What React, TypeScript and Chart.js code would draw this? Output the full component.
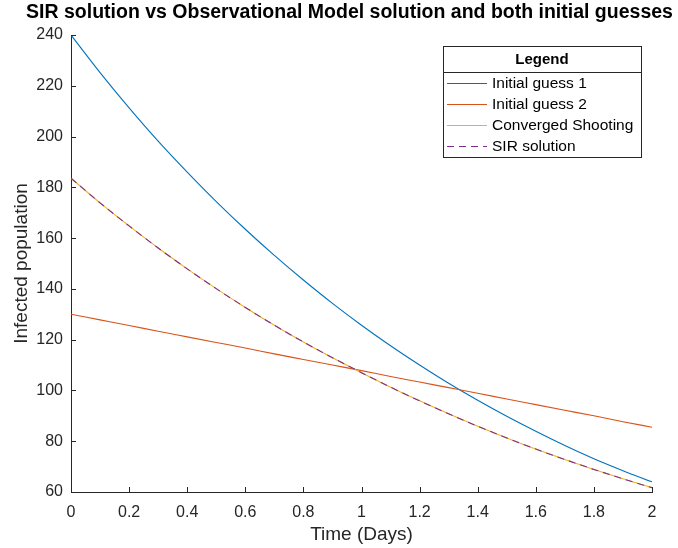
import React, { useEffect, useRef } from "react";
import { Chart, registerables } from "chart.js";

Chart.register(...registerables);

const timeDays = [0, 0.1, 0.2, 0.3, 0.4, 0.5, 0.6, 0.7, 0.8, 0.9, 1.0, 1.1, 1.2, 1.3, 1.4, 1.5, 1.6, 1.7, 1.8, 1.9, 2.0];
const initialGuess1 = [240, 225.2, 211.3, 198.2, 186, 174.4, 163.5, 153.2, 143.5, 134.3, 125.7, 117.6, 110, 102.8, 96.1, 89.8, 83.9, 78.3, 73.1, 68.4, 64];
const initialGuess2 = [130, 127.8, 125.6, 123.3, 121.1, 118.9, 116.7, 114.4, 112.2, 110, 107.8, 105.5, 103.3, 101.1, 98.9, 96.6, 94.4, 92.2, 90, 87.7, 85.5];
const convergedShooting = [183.6, 173.9, 164.8, 156.1, 147.9, 140.1, 132.7, 125.7, 119.1, 112.9, 107, 101.3, 95.9, 90.8, 85.9, 81.3, 76.9, 72.8, 68.9, 65.2, 61.7];
const sirSolution = [183.6, 173.9, 164.8, 156.1, 147.9, 140.1, 132.7, 125.7, 119.1, 112.9, 107, 101.3, 95.9, 90.8, 85.9, 81.3, 76.9, 72.8, 68.9, 65.2, 61.7];

const seriesLabels = ["Initial guess 1", "Initial guess 2", "Converged Shooting", "SIR solution"];
const seriesColors = ["#0072BD", "#D95319", "#EDB120", "#7E2F8E"];

const FONT = "'Liberation Sans', Arial, Helvetica, sans-serif";
const AXIS_COLOR = "#262626";

const toXY = (ys: number[]) => ys.map((y, i) => ({ x: timeDays[i], y }));

const shiftTitle = {
  id: "shiftTitle",
  afterLayout(chart: any) {
    const t = chart.titleBlock;
    if (t) {
      t.left = 21;
      t.right = chart.width;
      t.width = t.right - t.left;
    }
  },
};

const inwardTicks = {
  id: "inwardTicks",
  afterDatasetsDraw(chart: any) {
    const { ctx, chartArea, scales } = chart;
    ctx.save();
    ctx.strokeStyle = AXIS_COLOR;
    ctx.lineWidth = 1;
    const xs = scales.x;
    xs.ticks.forEach((_t: any, i: number) => {
      const px = Math.round(xs.getPixelForTick(i)) + 0.5;
      ctx.beginPath();
      ctx.moveTo(px, chartArea.bottom);
      ctx.lineTo(px, chartArea.bottom - 5);
      ctx.stroke();
    });
    const ys = scales.y;
    ys.ticks.forEach((_t: any, i: number) => {
      const py = Math.round(ys.getPixelForTick(i)) + 0.5;
      ctx.beginPath();
      ctx.moveTo(chartArea.left, py);
      ctx.lineTo(chartArea.left + 5, py);
      ctx.stroke();
    });
    ctx.restore();
  },
};

const boxLegend = {
  id: "boxLegend",
  afterDraw(chart: any) {
    const { ctx, chartArea } = chart;
    const ds = chart.data.datasets;
    const w = 198;
    const headerH = 26;
    const rowH = 21;
    const right = chartArea.right - 11;
    const left = right - w;
    const top = chartArea.top + 11;
    const h = headerH + rowH * ds.length + 1;
    ctx.save();
    ctx.fillStyle = "#ffffff";
    ctx.fillRect(left, top, w, h);
    ctx.strokeStyle = AXIS_COLOR;
    ctx.lineWidth = 1;
    ctx.strokeRect(Math.round(left) + 0.5, Math.round(top) + 0.5, w, h);
    ctx.beginPath();
    ctx.moveTo(Math.round(left), Math.round(top + headerH) + 0.5);
    ctx.lineTo(Math.round(left + w), Math.round(top + headerH) + 0.5);
    ctx.stroke();
    ctx.fillStyle = "#000000";
    ctx.font = `bold 15px ${FONT}`;
    ctx.textAlign = "center";
    ctx.textBaseline = "middle";
    ctx.fillText("Legend", left + w / 2, top + headerH / 2 + 1);
    ctx.font = `15.5px ${FONT}`;
    ctx.textAlign = "left";
    ds.forEach((d: any, i: number) => {
      const cy = top + headerH + rowH * i + rowH / 2 + 1;
      ctx.beginPath();
      ctx.strokeStyle = d.borderColor;
      ctx.lineWidth = 1;
      ctx.setLineDash(d.borderDash || []);
      ctx.moveTo(left + 4, cy);
      ctx.lineTo(left + 44, cy);
      ctx.stroke();
      ctx.setLineDash([]);
      ctx.fillStyle = "#000000";
      ctx.fillText(d.label, left + 49, cy);
    });
    ctx.restore();
  },
};

export default function App() {
  const ref = useRef<HTMLCanvasElement>(null);
  useEffect(() => {
    if (!ref.current) return;
    const series = [initialGuess1, initialGuess2, convergedShooting, sirSolution];
    const chart = new Chart(ref.current, {
      type: "line",
      data: {
        datasets: series.map((s, i) => ({
          label: seriesLabels[i],
          data: toXY(s),
          borderColor: seriesColors[i],
          backgroundColor: seriesColors[i],
          borderWidth: 1.1,
          borderDash: i === 3 ? [7, 5] : [],
          pointRadius: 0,
          cubicInterpolationMode: "monotone",
          fill: false,
          order: 3 - i,
        })),
      },
      options: {
        animation: false,
        responsive: true,
        maintainAspectRatio: false,
        layout: { padding: { left: 0, right: 26, top: 0, bottom: 0 } },
        plugins: {
          legend: { display: false },
          tooltip: { enabled: false },
          title: {
            display: true,
            text: "SIR solution vs Observational Model solution and both initial guesses",
            color: "#000000",
            font: { family: FONT, size: 19.5, weight: "bold" },
            padding: { top: 1, bottom: 10.6 },
          },
        },
        scales: {
          x: {
            type: "linear",
            min: 0,
            max: 2,
            grid: { display: false, drawTicks: false },
            border: { display: true, color: AXIS_COLOR, width: 1 },
            ticks: {
              stepSize: 0.2,
              padding: 11,
              color: AXIS_COLOR,
              font: { family: FONT, size: 16 },
              maxRotation: 0,
              autoSkip: false,
              callback: (v: any) => String(Number(Number(v).toFixed(1))),
            },
            title: {
              display: true,
              text: "Time (Days)",
              color: AXIS_COLOR,
              font: { family: FONT, size: 19 },
              padding: { top: 0, bottom: 2 },
            },
            afterFit: (s: any) => {
              s.height = 56;
            },
          },
          y: {
            type: "linear",
            min: 60,
            max: 240,
            grid: { display: false, drawTicks: false },
            border: { display: true, color: AXIS_COLOR, width: 1 },
            ticks: {
              stepSize: 20,
              padding: 8,
              color: AXIS_COLOR,
              font: { family: FONT, size: 16 },
            },
            title: {
              display: true,
              text: "Infected population",
              color: AXIS_COLOR,
              font: { family: FONT, size: 19 },
              padding: { top: 10, bottom: 0 },
            },
            afterFit: (s: any) => {
              s.width = 71;
            },
          },
        },
      },
      plugins: [shiftTitle, inwardTicks, boxLegend],
    });
    return () => chart.destroy();
  }, []);
  return (
    <div style={{ position: "absolute", left: 0, top: 0, width: 678, height: 548, background: "#ffffff" }}>
      <canvas ref={ref} />
    </div>
  );
}
